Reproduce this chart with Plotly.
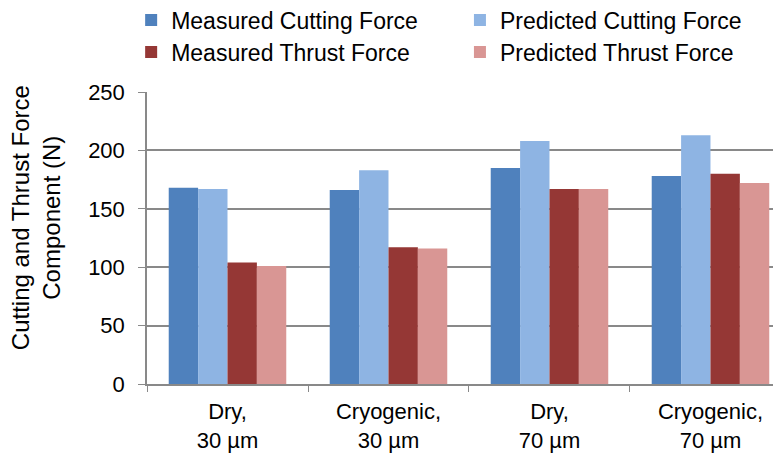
import plotly.graph_objects as go

# data
categories = ["Dry,<br>30 µm", "Cryogenic,<br>30 µm", "Dry,<br>70 µm", "Cryogenic,<br>70 µm"]
measured_cutting = [168, 166, 185, 178]
predicted_cutting = [167, 183, 208, 213]
measured_thrust = [104, 117, 167, 180]
predicted_thrust = [101, 116, 167, 172]

series = [
    ("Measured Cutting Force", measured_cutting, "#4F81BD", "legend"),
    ("Predicted Cutting Force", predicted_cutting, "#8EB4E3", "legend2"),
    ("Measured Thrust Force", measured_thrust, "#953735", "legend3"),
    ("Predicted Thrust Force", predicted_thrust, "#D99694", "legend4"),
]

fig = go.Figure()
for name, vals, color, leg in series:
    fig.add_trace(go.Bar(x=categories, y=vals, name=name, marker_color=color,
                         marker_line_width=0, legend=leg, showlegend=True))

font = "Liberation Sans, Arial, sans-serif"
leg = dict(xanchor="left", yanchor="middle", bgcolor="rgba(0,0,0,0)",
           font=dict(family=font, size=23, color="#000"))

# one legend per entry so the 2x2 block can be placed like the original
col1, col2 = -0.025, 0.4936
row1, row2 = 1.2466, 1.137

# page body has an 8px margin, so the figure is 8px smaller than the window
fig.update_layout(
    width=773, height=449,
    margin=dict(l=139, r=0, t=84, b=73, autoexpand=False),
    paper_bgcolor="white", plot_bgcolor="white",
    font=dict(family=font, size=22, color="#000"),
    showlegend=True,
    barmode="group", bargap=0.27, bargroupgap=0,
    legend=dict(x=col1, y=row1, **leg),
    legend2=dict(x=col2, y=row1, **leg),
    legend3=dict(x=col1, y=row2, **leg),
    legend4=dict(x=col2, y=row2, **leg),
    annotations=[dict(
        text="Cutting and Thrust Force<br>Component (N)",
        xref="paper", yref="paper", x=-0.175, y=0.568,
        xanchor="center", yanchor="middle", textangle=-90,
        showarrow=False, font=dict(size=24),
    )],
)

fig.update_xaxes(
    type="category", range=[-0.5, 3.438],
    showline=True, linecolor="#898989", linewidth=1.5,
    ticks="outside", tickson="boundaries", ticklen=6, tickcolor="#898989",
    tickfont=dict(size=22), ticklabelstandoff=7, showgrid=False,
)
fig.update_yaxes(
    range=[0, 250], dtick=50,
    showline=True, linecolor="#898989", linewidth=1.5,
    ticks="outside", ticklen=7, tickcolor="#898989",
    showgrid=True, gridcolor="#898989", gridwidth=1.5,
    tickfont=dict(size=22), ticklabelstandoff=9,
    zeroline=False,
)

fig.write_html("out.html")
